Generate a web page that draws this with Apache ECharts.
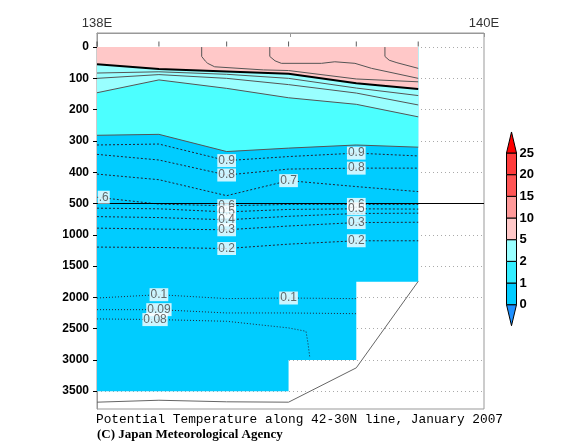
<!DOCTYPE html>
<html>
<head>
<meta charset="utf-8">
<script src="https://cdn.jsdelivr.net/npm/echarts@6/dist/echarts.min.js"></script>
<style>
	html, body { margin: 0; background: #fff; }
	#chart { width: 570px; height: 441px; }
</style>
</head>
<body>
<div id="chart"></div>
<script>
	// stations along the line (deg E) and depth ticks (m)
	const stationLon = [138.0, 138.32, 138.67, 138.99, 139.34, 139.66]
	const depthTicks = [0, 100, 200, 300, 400, 500, 1000, 1500, 2000, 2500, 3000, 3500]
	const lonTicks = [138, 139, 140]

	// isotherm depth (m) at each station
	const iso5 = [55, 70, 78, 85, 116, 134]
	const iso4 = [83, 79, 87, 100, 131, 155]
	const iso3 = [100, 88, 100, 120, 147, 185]
	const iso2 = [146, 105, 132, 162, 183, 223]
	const iso1 = [282, 279, 334, 323, 313, 320]
	const iso09 = [313, 310, 363, 350, 339, 348]
	const iso08 = [343, 361, 409, 390, 387, 387]
	const iso07 = [406, 424, 475, 427, 446, 462]
	const iso06 = [480, 510, 537, 515, 515, 515]
	const iso05 = [575, 585, 635, 595, 585, 590]
	const iso04 = [710, 725, 761, 705, 660, 655]
	const iso03 = [894, 909, 920, 860, 805, 800]
	const iso02 = [1197, 1203, 1220, 1150, 1096, 1096]
	const iso01 = [2011, 1958, 2020, 2011, 2021]
	const iso009 = [2197, 2197, 2250, 2250, 2261]

	// isotherms that bend up to the surface, [lon, depth]
	const iso6 = [[138.541, 0], [138.541, 30], [138.56, 45], [138.572, 52], [138.608, 63], [138.86, 73], [138.99, 75], [139.34, 102], [139.66, 111]]
	const iso7 = [[138.893, 0], [138.893, 30], [138.92, 44], [138.953, 52], [139.16, 52], [139.229, 47], [139.333, 52], [139.419, 68], [139.54, 84], [139.66, 100]]
	const iso8 = [[139.488, 0], [139.488, 30], [139.51, 42], [139.55, 50], [139.66, 68]]
	const iso008 = [[138.0, 2345], [138.32, 2356], [138.67, 2383], [138.99, 2489], [139.08, 2543], [139.09, 2727], [139.1, 2968]]

	// where data exist, and the sea floor
	const coverLon = [138.0, 139.66, 139.66, 139.34, 139.34, 138.99, 138.99, 138.0]
	const coverDepth = [0, 0, 1750, 1750, 3000, 3000, 3500, 3500]
	const floorDepth = [3676, 3645, 3670, 3676, 3127, 1745]

	const cbLevels = [0, 1, 2, 5, 10, 15, 20, 25]
	const cbColors = ['#1e90ff', '#00ccff', '#33eeff', '#99ffff', '#ffc8c8', '#ff9999', '#ff5555', '#ff3c3c', '#ff0000']

	// depth axis: 100 m per tick down to 500, then 500 m per tick
	function tr(d) { return d <= 500 ? d / 100 : 5 + (d - 500) / 500 }
	function untr(t) { return t <= 5 ? t * 100 : 500 + (t - 5) * 500 }
	const pts = (lons, deps) => deps.map((d, i) => [lons[i], tr(d)])
	const pairs = arr => arr.map(p => [p[0], tr(p[1])])
	const surface = stationLon.map(x => [x, 0])

	const fills = [
		{ color: '#00ccff', poly: pts(coverLon, coverDepth) },
		{ color: '#4cffff', poly: surface.concat(pts(stationLon, iso1).reverse()) },
		{ color: '#99ffff', poly: surface.concat(pts(stationLon, iso2).reverse()) },
		{ color: '#ffc8c8', poly: surface.concat(pts(stationLon, iso5).reverse()) }
	]

	function contour(data, style) {
		return { type: 'line', data: data, symbol: 'none', silent: true, z: 3, lineStyle: style }
	}
	const solid = { color: '#555', width: 1 }
	const dotted = { color: '#223', width: 1, type: [2, 2] }
	const sparse = { color: '#223', width: 1, type: [1, 2] }

	// contour labels: text, isotherm, station index
	const labelSpec = [
		['0.9', iso09, 2], ['0.9', iso09, 4],
		['0.8', iso08, 2], ['0.8', iso08, 4],
		['0.7', iso07, 3],
		['0.6', iso06, 2], ['0.6', iso06, 4],
		['0.5', iso05, 2], ['0.5', iso05, 4],
		['0.4', iso04, 2],
		['0.3', iso03, 2], ['0.3', iso03, 4],
		['0.2', iso02, 2], ['0.2', iso02, 4],
		['0.1', iso01, 1], ['0.1', iso01, 3],
		['0.09', iso009, 1]
	]
	const labelData = labelSpec.map(s => [stationLon[s[2]], tr(s[1][s[2]]), s[0]])
	labelData.push([iso008[1][0] - 0.02, tr(iso008[1][1]), '0.08'])
	labelData.push([stationLon[0] + 0.035, tr(iso06[0]), '.6'])

	const chart = echarts.init(document.getElementById('chart'))
	chart.setOption({
		animation: false,
		backgroundColor: '#fff',
		title: [{
			text: 'Potential Temperature along 42-30N line, January 2007',
			left: 96, top: 413, padding: 0,
			textStyle: { fontFamily: 'Liberation Mono', fontSize: 12.8, fontWeight: 'normal', color: '#000' }
		}, {
			text: '(C) Japan Meteorological Agency',
			left: 97, top: 428, padding: 0,
			textStyle: { fontFamily: 'Liberation Serif', fontSize: 13, fontWeight: 'bold', color: '#000' }
		}],
		grid: [
			{ left: 97, right: 86, top: 33, bottom: 32, show: true, borderColor: '#999', borderWidth: 1 },
			{ left: 506.5, top: 153, width: 10, height: 151.7 }
		],
		xAxis: [{
			type: 'value',
			position: 'top',
			min: 138,
			max: 140,
			interval: 1,
			axisLine: { onZero: false, lineStyle: { color: '#999' } },
			axisTick: { inside: true, length: 4, lineStyle: { color: '#999' } },
			axisLabel: {
				margin: 3,
				color: '#333',
				fontFamily: 'Liberation Sans',
				fontSize: 13,
				formatter: v => lonTicks.indexOf(v) === 1 ? '' : v + 'E'
			},
			splitLine: { show: false }
		}, {
			gridIndex: 1, type: 'value', min: 0, max: 1, show: false
		}],
		yAxis: [{
			type: 'value',
			inverse: true,
			min: -0.45,
			max: 11.57,
			axisLine: { show: true, onZero: false, lineStyle: { color: '#999' } },
			axisTick: { customValues: depthTicks.map(tr), length: 4, lineStyle: { color: '#000' } },
			axisLabel: {
				customValues: depthTicks.map(tr),
				margin: 8,
				color: '#000',
				fontFamily: 'Liberation Sans',
				fontWeight: 'bold',
				fontSize: 12,
				formatter: v => String(Math.round(untr(v)))
			},
			splitLine: { show: true, lineStyle: { color: '#aaa', type: [1, 3] } }
		}, {
			gridIndex: 1,
			type: 'value',
			min: 0,
			max: 7,
			interval: 1,
			position: 'right',
			axisLine: { show: false },
			axisTick: { show: false },
			splitLine: { show: false },
			axisLabel: {
				margin: 3,
				color: '#000',
				fontFamily: 'Liberation Sans',
				fontWeight: 'bold',
				fontSize: 13,
				formatter: v => String(cbLevels[v])
			}
		}],
		series: [{
			type: 'custom',
			silent: true,
			z: 1,
			data: fills.map((f, i) => [138, 0, i]),
			renderItem: (params, api) => {
				const f = fills[api.value(2)]
				return {
					type: 'polygon',
					shape: { points: f.poly.map(p => api.coord(p)) },
					style: { fill: f.color }
				}
			}
		},
		contour(pairs(iso6), solid),
		contour(pairs(iso7), solid),
		contour(pairs(iso8), solid),
		contour(pts(stationLon, iso4), solid),
		contour(pts(stationLon, iso3), solid),
		contour(pts(stationLon, iso2), solid),
		contour(pts(stationLon, iso1), solid),
		Object.assign(contour(pts(stationLon, iso5), { color: '#000', width: 2 }), {
			markLine: {
				silent: true,
				symbol: 'none',
				label: { show: false },
				lineStyle: { color: '#000', width: 1, type: 'solid' },
				data: [{ yAxis: tr(500) }]
			}
		}),
		contour(pts(stationLon, iso09), dotted),
		contour(pts(stationLon, iso08), dotted),
		contour(pts(stationLon, iso07), dotted),
		contour(pts(stationLon, iso06), dotted),
		contour(pts(stationLon, iso05), dotted),
		contour(pts(stationLon, iso04), dotted),
		contour(pts(stationLon, iso03), dotted),
		contour(pts(stationLon, iso02), dotted),
		contour(pts(stationLon, iso01), sparse),
		contour(pts(stationLon, iso009), sparse),
		contour(pairs(iso008), sparse),
		contour(pts(stationLon, floorDepth), { color: '#666', width: 1 }),
		{
			// station marks above the surface
			type: 'scatter',
			silent: true,
			z: 4,
			symbol: 'rect',
			symbolSize: [1, 5],
			symbolOffset: [0, -3],
			itemStyle: { color: '#333' },
			data: surface
		}, {
			type: 'scatter',
			silent: true,
			z: 5,
			symbolSize: 0,
			data: labelData,
			label: {
				show: true,
				position: 'inside',
				formatter: p => p.data[2],
				backgroundColor: '#fff',
				color: '#444',
				fontFamily: 'Liberation Sans',
				fontSize: 12,
				padding: [1, 1, 0, 1]
			}
		}, {
			// colour bar
			type: 'custom',
			xAxisIndex: 1,
			yAxisIndex: 1,
			silent: true,
			data: cbColors.map((c, i) => [0, i - 1]),
			renderItem: (params, api) => {
				const k = api.value(1)
				let p
				if (k < 0) p = [[0, 0], [1, 0], [0.5, -0.97]]
				else if (k > 6) p = [[0, 7], [1, 7], [0.5, 7.97]]
				else p = [[0, k], [1, k], [1, k + 1], [0, k + 1]]
				return {
					type: 'polygon',
					shape: { points: p.map(q => api.coord(q)) },
					style: { fill: cbColors[k + 1], stroke: '#000', lineWidth: 1 }
				}
			}
		}]
	})
</script>
</body>
</html>
